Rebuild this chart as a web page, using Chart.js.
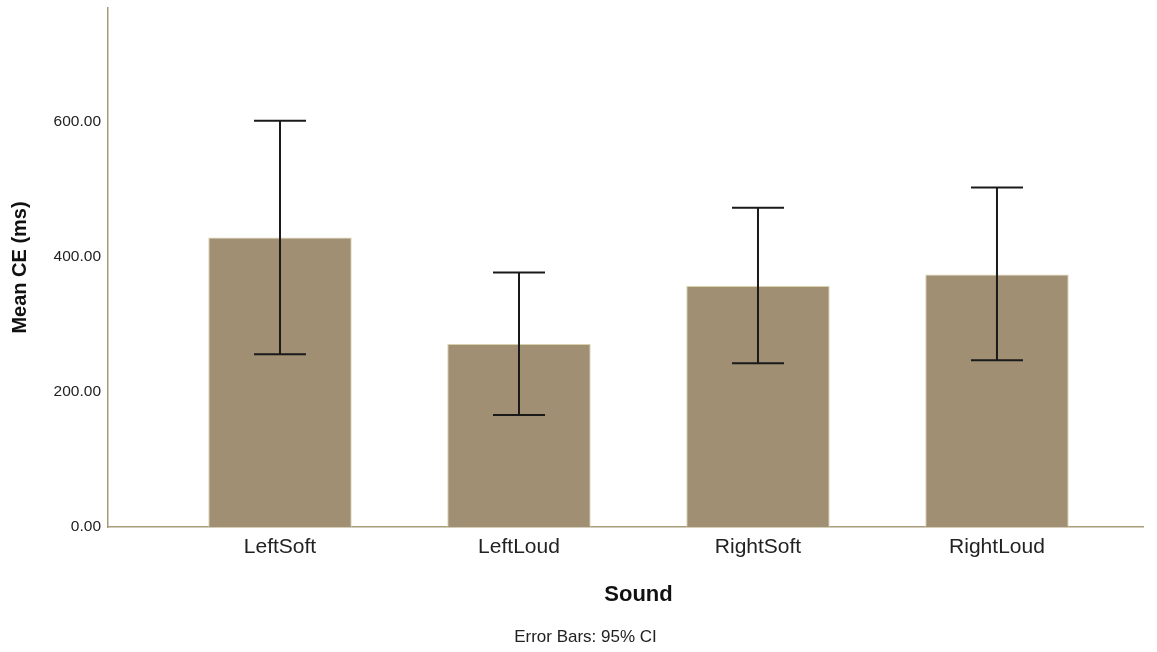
<!DOCTYPE html>
<html>
<head>
<meta charset="utf-8">
<script src="https://cdn.jsdelivr.net/npm/chart.js@4/dist/chart.umd.min.js"></script>
<style>
    html, body { margin: 0; padding: 0; background: #fff; }
    #wrap { width: 1157px; height: 652px; }
</style>
</head>
<body>
<div id="wrap"><canvas id="grafico"></canvas></div>
<script>
// datos
const categorias = ['LeftSoft', 'LeftLoud', 'RightSoft', 'RightLoud'];
const medias = [429, 271, 357, 374];
const icInferior = [256, 166, 242.5, 247];
const icSuperior = [602, 377, 473, 503];
const ticksY = [0, 200, 400, 600];

const FUENTE = "'Liberation Sans', Arial, sans-serif";
const COLOR_EJE = '#A89C78';

const barrasError = {
    id: 'barrasError',
    afterDatasetsDraw(chart) {
        const { ctx, scales: { x, y } } = chart;
        ctx.save();
        ctx.strokeStyle = '#1a1a1a';
        ctx.lineWidth = 2;
        categorias.forEach((_, i) => {
            const px = x.getPixelForValue(i);
            const top = y.getPixelForValue(icSuperior[i]);
            const bot = y.getPixelForValue(icInferior[i]);
            ctx.beginPath();
            ctx.moveTo(px, top); ctx.lineTo(px, bot);
            ctx.moveTo(px - 26, top); ctx.lineTo(px + 26, top);
            ctx.moveTo(px - 26, bot); ctx.lineTo(px + 26, bot);
            ctx.stroke();
        });
        ctx.restore();
    },
    afterDraw(chart) {
        const { ctx, scales: { x } } = chart;
        const cx = (x.getPixelForValue(0) + x.getPixelForValue(categorias.length - 1)) / 2;
        ctx.save();
        ctx.textAlign = 'center';
        ctx.textBaseline = 'middle';
        ctx.fillStyle = '#111';
        ctx.font = `bold 22px ${FUENTE}`;
        ctx.fillText('Sound', cx, 595);
        ctx.font = `17px ${FUENTE}`;
        ctx.fillStyle = '#222';
        ctx.fillText('Error Bars: 95% CI', cx - 53, 637);
        ctx.restore();
    }
};

new Chart(document.getElementById('grafico'), {
    type: 'bar',
    data: {
        datasets: [{
            data: medias.map((m, i) => ({ x: i, y: m })),
            backgroundColor: '#A08F72',
            borderColor: '#D9D0AC',
            borderWidth: 1,
            barPercentage: 0.6,
            categoryPercentage: 1
        }]
    },
    options: {
        responsive: true,
        maintainAspectRatio: false,
        animation: false,
        layout: { padding: { left: 0, right: 14, top: 8, bottom: 0 } },
        plugins: { legend: { display: false }, tooltip: { enabled: false } },
        scales: {
            x: {
                type: 'linear',
                offset: false,
                min: -0.7197,
                max: 3.611,
                afterBuildTicks: s => { s.ticks = categorias.map((_, i) => ({ value: i })); },
                afterFit: s => { s.height = 125; s.paddingLeft = 0; s.paddingRight = 0; },
                grid: { display: false, drawTicks: false },
                border: { color: COLOR_EJE, width: 1.5 },
                ticks: {
                    autoSkip: false,
                    maxRotation: 0,
                    padding: 8,
                    color: '#222',
                    font: { family: FUENTE, size: 21 },
                    callback: v => categorias[v] ?? ''
                }
            },
            y: {
                min: 0,
                max: 769,
                afterBuildTicks: s => { s.ticks = ticksY.map(v => ({ value: v })); },
                afterFit: s => { s.width = 108; s.paddingTop = 0; s.paddingBottom = 0; },
                grid: { display: false, drawTicks: false },
                border: { color: COLOR_EJE, width: 1.5 },
                ticks: {
                    padding: 7,
                    color: '#222',
                    font: { family: FUENTE, size: 15.5 },
                    callback: v => v.toFixed(2)
                },
                title: {
                    display: true,
                    text: 'Mean CE (ms)',
                    color: '#111',
                    padding: { top: 8, bottom: 0 },
                    font: { family: FUENTE, size: 20, weight: 'bold' }
                }
            }
        }
    },
    plugins: [barrasError]
});
</script>
</body>
</html>
